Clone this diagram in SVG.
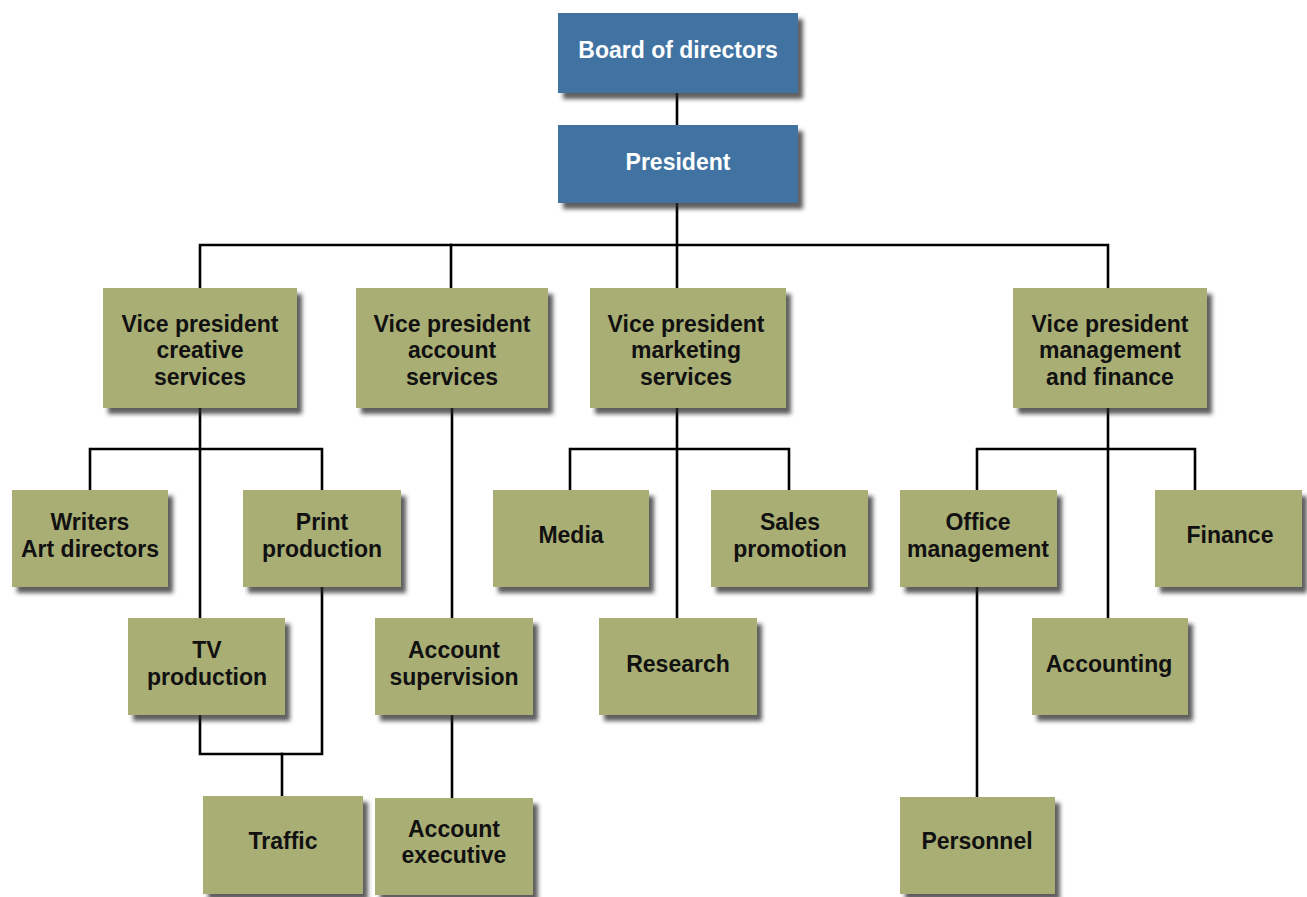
<svg xmlns="http://www.w3.org/2000/svg" width="1307" height="897" viewBox="0 0 1307 897">
<defs>
<filter id="sh" x="-10%" y="-10%" width="130%" height="140%">
<feDropShadow dx="5" dy="6" stdDeviation="2.2" flood-color="#2a2a2a" flood-opacity="0.75"/>
</filter>
<style>
.blue{fill:#4173a2;filter:url(#sh)}
.olive{fill:#a9ae74;filter:url(#sh)}
.tw{font-family:"Liberation Sans",Arial,sans-serif;font-weight:bold;font-size:23px;fill:#ffffff;text-anchor:middle}
.tb{font-family:"Liberation Sans",Arial,sans-serif;font-weight:bold;font-size:23px;fill:#111111;text-anchor:middle}
.ln{stroke:#000;stroke-width:2.6;fill:none;stroke-linecap:square}
</style>
</defs>
<rect width="1307" height="897" fill="#ffffff"/>
<g id="connectors">
<path class="ln" d="M677 93 V125"/>
<path class="ln" d="M677 203 V287"/>
<path class="ln" d="M200 287 V245 H1108 V287"/>
<path class="ln" d="M451 245 V287"/>
<path class="ln" d="M200 408 V617"/>
<path class="ln" d="M90 490 V449 H322 V490"/>
<path class="ln" d="M322 587 V754 H200 V715"/>
<path class="ln" d="M282 754 V796"/>
<path class="ln" d="M452 408 V618"/>
<path class="ln" d="M452 715 V798"/>
<path class="ln" d="M677 408 V618"/>
<path class="ln" d="M570 490 V449 H789 V490"/>
<path class="ln" d="M1108 408 V618"/>
<path class="ln" d="M977 490 V449 H1195 V490"/>
<path class="ln" d="M977 587 V797"/>
</g>
<g id="board"><rect class="blue" x="558" y="13" width="240" height="80"/><text class="tw" x="678" y="58">Board of directors</text></g>
<g id="president"><rect class="blue" x="558" y="125" width="240" height="78"/><text class="tw" x="678" y="170">President</text></g>
<g id="vp-creative"><rect class="olive" x="103" y="288" width="194" height="120"/><text class="tb" x="200" y="332">Vice president</text><text class="tb" x="200" y="358">creative</text><text class="tb" x="200" y="385">services</text></g>
<g id="vp-account"><rect class="olive" x="356" y="288" width="192" height="120"/><text class="tb" x="452" y="332">Vice president</text><text class="tb" x="452" y="358">account</text><text class="tb" x="452" y="385">services</text></g>
<g id="vp-marketing"><rect class="olive" x="590" y="288" width="196" height="120"/><text class="tb" x="686" y="332">Vice president</text><text class="tb" x="686" y="358">marketing</text><text class="tb" x="686" y="385">services</text></g>
<g id="vp-management"><rect class="olive" x="1013" y="288" width="194" height="120"/><text class="tb" x="1110" y="332">Vice president</text><text class="tb" x="1110" y="358">management</text><text class="tb" x="1110" y="385">and finance</text></g>
<g id="writers"><rect class="olive" x="12" y="490" width="156" height="97"/><text class="tb" x="90" y="530">Writers</text><text class="tb" x="90" y="557">Art directors</text></g>
<g id="print"><rect class="olive" x="243" y="490" width="158" height="97"/><text class="tb" x="322" y="530">Print</text><text class="tb" x="322" y="557">production</text></g>
<g id="tv"><rect class="olive" x="128" y="618" width="157" height="97"/><text class="tb" x="207" y="658">TV</text><text class="tb" x="207" y="685">production</text></g>
<g id="traffic"><rect class="olive" x="203" y="796" width="160" height="98"/><text class="tb" x="283" y="849">Traffic</text></g>
<g id="acct-supervision"><rect class="olive" x="375" y="618" width="158" height="97"/><text class="tb" x="454" y="658">Account</text><text class="tb" x="454" y="685">supervision</text></g>
<g id="acct-executive"><rect class="olive" x="375" y="798" width="158" height="97"/><text class="tb" x="454" y="837">Account</text><text class="tb" x="454" y="863">executive</text></g>
<g id="media"><rect class="olive" x="493" y="490" width="156" height="97"/><text class="tb" x="571" y="543">Media</text></g>
<g id="sales"><rect class="olive" x="711" y="490" width="157" height="97"/><text class="tb" x="790" y="530">Sales</text><text class="tb" x="790" y="557">promotion</text></g>
<g id="research"><rect class="olive" x="599" y="618" width="158" height="97"/><text class="tb" x="678" y="672">Research</text></g>
<g id="office"><rect class="olive" x="900" y="490" width="157" height="97"/><text class="tb" x="978" y="530">Office</text><text class="tb" x="978" y="557">management</text></g>
<g id="finance"><rect class="olive" x="1155" y="490" width="147" height="97"/><text class="tb" x="1230" y="543">Finance</text></g>
<g id="accounting"><rect class="olive" x="1032" y="618" width="156" height="97"/><text class="tb" x="1109" y="672">Accounting</text></g>
<g id="personnel"><rect class="olive" x="900" y="797" width="155" height="97"/><text class="tb" x="977" y="849">Personnel</text></g>
</svg>
